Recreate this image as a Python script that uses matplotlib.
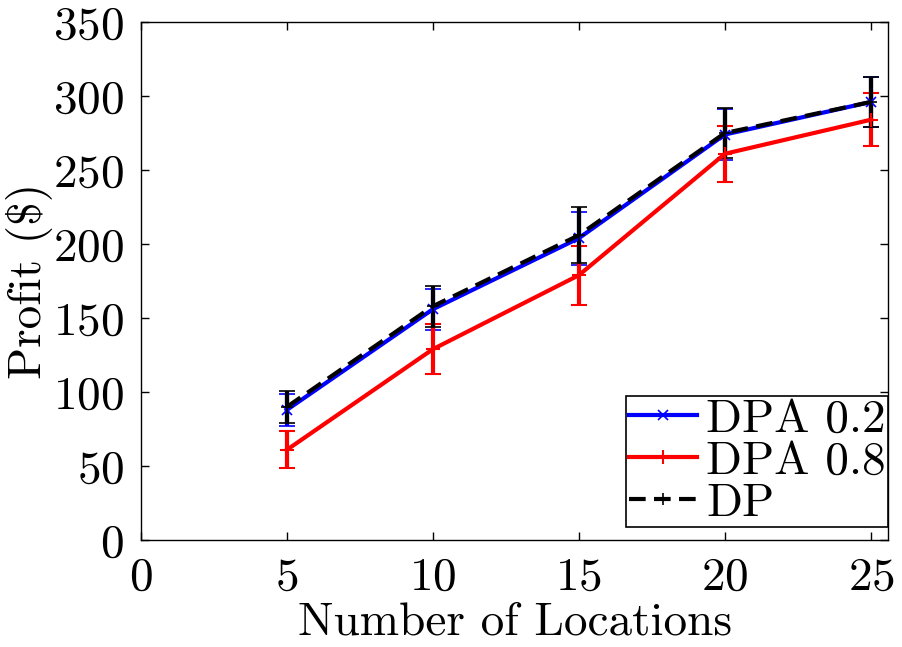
import numpy as np
import matplotlib
matplotlib.use("Agg")
import matplotlib.pyplot as plt

# ===== DATA =====
locations = [5, 10, 15, 20, 25]
series_names = ['DPA 0.2', 'DPA 0.8', 'DP']

dpa02 = [88, 156, 204, 274, 296]
dpa02_err = [11, 14, 18, 17, 17]

dpa08 = [61, 129, 179, 261, 284]
dpa08_err = [12.5, 17, 20, 19, 18]

dp = [90, 158, 206, 275, 296]
dp_err = [11, 14, 19, 17, 17]

# ===== STYLE =====
plt.rcParams['font.family'] = ['cmr10', 'DejaVu Serif']
plt.rcParams['axes.formatter.use_mathtext'] = True
plt.rcParams['font.size'] = 34

fig = plt.figure(figsize=(9.02, 6.47), dpi=100)
ax = fig.add_axes([0.156, 0.165, 0.829, 0.801])

e1 = ax.errorbar(locations, dpa02, yerr=dpa02_err, color='blue', lw=3,
                 marker='x', ms=7, mew=1.2, capsize=6, capthick=3, elinewidth=3)
e2 = ax.errorbar(locations, dpa08, yerr=dpa08_err, color='red', lw=3,
                 marker='+', ms=10, mew=1.5, capsize=6, capthick=3, elinewidth=3)
e3 = ax.errorbar(locations, dp, yerr=dp_err, color='black', lw=3, ls=(0, (4, 2)),
                 marker='+', ms=8, mew=1.2, capsize=6, capthick=3, elinewidth=3)

ax.set_xlim(0, 25.6)
ax.set_ylim(0, 350)
ax.set_xticks([0, 5, 10, 15, 20, 25])
ax.set_yticks(np.arange(0, 351, 50))
ax.tick_params(direction='in', top=True, right=True, length=6, width=1)
ax.tick_params(axis='x', pad=12)
ax.tick_params(axis='y', pad=12)
for s in ax.spines.values():
    s.set_linewidth(1)

ax.set_xlabel('Number of Locations', labelpad=2)
ax.set_ylabel('Profit ($)', labelpad=0)

leg = ax.legend([e1.lines[0], e2.lines[0], e3.lines[0]], series_names,
                loc='lower right', bbox_to_anchor=(1.0, 0.025),
                fancybox=False, framealpha=1, edgecolor='black',
                borderpad=0.05, labelspacing=0.0,
                handlelength=1.45, handletextpad=0.2, borderaxespad=0.0)
leg.get_frame().set_linewidth(1.2)

fig.savefig('out.png', dpi=100)
